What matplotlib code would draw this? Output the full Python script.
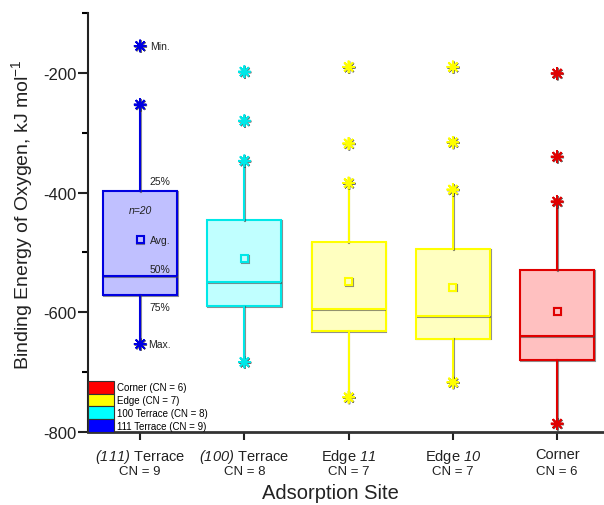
import matplotlib
matplotlib.use('Agg')
import matplotlib.pyplot as plt
import matplotlib.patheffects as pe
import matplotlib.transforms as mtransforms
from matplotlib.patches import Patch
from matplotlib.ticker import MultipleLocator

plt.rcParams['font.family'] = ['Liberation Sans', 'DejaVu Sans']
plt.rcParams['mathtext.fontset'] = 'custom'
# math "rm" is italic here so digits and brackets in $...$ come out italic
plt.rcParams['mathtext.rm'] = 'Liberation Sans:italic'
plt.rcParams['mathtext.it'] = 'Liberation Sans:italic'
plt.rcParams['mathtext.sf'] = 'Liberation Sans'
plt.rcParams['axes.unicode_minus'] = False

# data
site_main = [r'$(111)$ Terrace', r'$(100)$ Terrace',
             r'Edge $11$', r'Edge $10$', 'Corner']
site_cn = [9, 8, 7, 7, 6]
box_top = [-397, -446, -483, -495, -529]      # "25%"
median = [-539, -550, -594, -607, -640]       # "50%"
box_bottom = [-571, -590, -631, -644, -680]   # "75%"
mean = [-479, -510, -549, -558, -598]
whisker_top = [-253, -347, -384, -395, -415]
whisker_bottom = [-653, -683, -742, -717, -786]
extra_points = [[-155], [-198, -280], [-190, -318], [-190, -316], [-201, -340]]

edge_colors = ['#0000E0', '#00E8E8', '#FFFF00', '#FFFF00', '#E00000']
face_colors = ['#C0C0FF', '#C0FFFF', '#FFFFC0', '#FFFFC0', '#FFC0C0']

legend_labels = ['Corner (CN = 6)', 'Edge (CN = 7)', '100 Terrace (CN = 8)', '111 Terrace (CN = 9)']
legend_colors = ['#FF0000', '#FFFF00', '#00FFFF', '#0000FF']

fig = plt.figure(figsize=(6.04, 5.06), dpi=100)
ax = fig.add_axes([88 / 604, 1 - 433 / 506, 516 / 604, 419 / 506])

shadow = [pe.SimpleLineShadow(offset=(0.6, -0.6), shadow_color='#444444', alpha=0.6), pe.Normal()]
star_shadow = [pe.SimpleLineShadow(offset=(0.5, -0.5), shadow_color='#333333', alpha=0.7), pe.Normal()]
star = (8, 2, 0)

for i in range(len(site_main)):
    pos = i + 1
    ec, fc = edge_colors[i], face_colors[i]
    stats = [{
        'med': median[i], 'q1': box_bottom[i], 'q3': box_top[i],
        'whislo': whisker_bottom[i], 'whishi': whisker_top[i],
        'mean': mean[i],
        'fliers': extra_points[i] + [whisker_top[i], whisker_bottom[i]],
    }]
    bp = ax.bxp(stats, positions=[pos], widths=0.71, patch_artist=True,
                showmeans=True, showcaps=False, showfliers=True,
                boxprops={'facecolor': fc, 'edgecolor': ec, 'linewidth': 1.5},
                medianprops={'color': ec, 'linewidth': 1.5},
                whiskerprops={'color': ec, 'linewidth': 1.5},
                meanprops={'marker': 's', 'markerfacecolor': fc, 'markeredgecolor': ec,
                           'markersize': 5, 'markeredgewidth': 1.5},
                flierprops={'marker': star, 'markeredgecolor': ec, 'markerfacecolor': ec,
                            'markersize': 9, 'markeredgewidth': 1.3, 'linestyle': 'none'})
    for art in bp['boxes'] + bp['medians'] + bp['whiskers'] + bp['means']:
        art.set_path_effects(shadow)
        art.set_zorder(3)
    for art in bp['fliers']:
        art.set_path_effects(star_shadow)
        art.set_zorder(4)

# annotation of the first box
ann = dict(fontsize=7.5, va='center', ha='left', color='#222222')
ax.text(1.1, extra_points[0][0], 'Min.', **ann)
ax.text(1.09, box_top[0] + 16, '25%', **ann)
ax.text(1.0, box_top[0] - 32, 'n=20', fontsize=7.5, va='center', ha='center',
        style='italic', color='#222222')
ax.text(1.09, mean[0], 'Avg.', **ann)
ax.text(1.09, median[0] + 12, '50%', **ann)
ax.text(1.09, box_bottom[0] - 20, '75%', **ann)
ax.text(1.08, whisker_bottom[0], 'Max.', **ann)

ax.set_xlim(0.5, 5.45)
ax.set_ylim(-800, -100)
ax.yaxis.set_major_locator(MultipleLocator(200))
ax.yaxis.set_minor_locator(MultipleLocator(200, offset=100))
ax.set_yticks([-200, -400, -600, -800])
ax.set_xticks(range(1, 6), site_main, fontsize=10.5)

trans = mtransforms.blended_transform_factory(ax.transData, ax.transAxes)
for i, cn in enumerate(site_cn):
    ax.text(i + 1, -0.093, f'CN = {cn}', transform=trans, ha='center', va='center',
            fontsize=9.5, color='#222222')

ax.spines['top'].set_visible(False)
ax.spines['right'].set_visible(False)
ax.spines['left'].set_linewidth(1.5)
ax.spines['bottom'].set_linewidth(2)
ax.spines['left'].set_color('#222222')
ax.spines['bottom'].set_color('#333333')
ax.tick_params(axis='y', which='major', length=7, width=1.5, pad=1, labelsize=12, colors='#222222')
ax.tick_params(axis='y', which='minor', length=4, width=1.5)
ax.tick_params(axis='x', which='major', length=6, width=1.5, pad=5, colors='#222222')

ax.set_ylabel(r'Binding Energy of Oxygen, kJ mol$^{\mathsf{-1}}$', fontsize=14, color='#222222')
ax.yaxis.set_label_coords(-0.128, 0.52)
ax.yaxis.label.set_va('center')
ax.set_xlabel('Adsorption Site', fontsize=14.5, color='#222222')
ax.xaxis.set_label_coords(0.469, -0.122)
ax.xaxis.label.set_va('top')

handles = [Patch(facecolor=c, edgecolor='#333333', linewidth=0.8) for c in legend_colors]
leg = ax.legend(handles, legend_labels, loc='lower left', frameon=False, fontsize=7,
                borderpad=0, borderaxespad=0, labelspacing=0, handlelength=2.7,
                handleheight=1.65, handletextpad=0.3)
leg.set_zorder(5)

fig.savefig('out.png', dpi=100)
